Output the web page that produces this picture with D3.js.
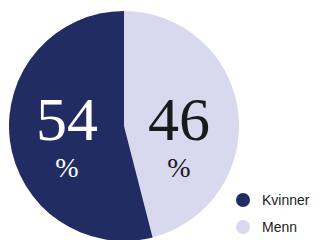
<!DOCTYPE html>
<html><head><meta charset="utf-8">
<script src="https://cdn.jsdelivr.net/npm/d3@7"></script>
<style>html,body{margin:0;padding:0;background:#fff;}svg{display:block;}</style>
</head><body>
<svg id="c" width="321" height="240"></svg>
<script>
const categories = ["Menn", "Kvinner"];
const values = [46, 54];
const colors = ["#d8d8ee", "#212d62"];
const labelColors = ["#1a1a1a", "#ffffff"];
const legendOrder = ["Kvinner", "Menn"];

const svg = d3.select("#c");
const cx = 124, cy = 126, r = 115;
const pie = d3.pie().sort(null).value(d => d.v);
const data = categories.map((c, i) => ({c, v: values[i], col: colors[i], lc: labelColors[i]}));
const arcs = pie(data);
const arc = d3.arc().innerRadius(0).outerRadius(r);
const g = svg.append("g").attr("transform", `translate(${cx},${cy})`);
g.selectAll("path").data(arcs).join("path").attr("d", arc).attr("fill", d => d.data.col);

const labX = {Menn: 55, Kvinner: -57};
const lab = g.selectAll("g.lab").data(arcs).join("g").attr("class", "lab")
  .attr("transform", d => `translate(${labX[d.data.c]},0)`);
lab.append("text").attr("font-family", "Liberation Serif").attr("text-anchor", "middle").attr("y", 14)
  .attr("font-size", 62)
  .attr("fill", d => d.data.lc).text(d => d.data.v);
lab.append("text").attr("font-family", "Liberation Serif").attr("text-anchor", "middle").attr("y", 51)
  .attr("font-size", 28)
  .attr("fill", d => d.data.lc).text("%");

const color = d3.scaleOrdinal().domain(categories).range(colors);
const leg = svg.append("g").attr("transform", "translate(243,200)");
const li = leg.selectAll("g").data(legendOrder).join("g").attr("transform", (d, i) => `translate(0,${i * 27})`);
li.append("circle").attr("r", 7).attr("fill", d => color(d));
li.append("text").attr("font-family", "Liberation Sans").attr("x", 19).attr("y", 5)
  .attr("font-size", 14).attr("fill", "#222").text(d => d);
</script>
</body></html>
